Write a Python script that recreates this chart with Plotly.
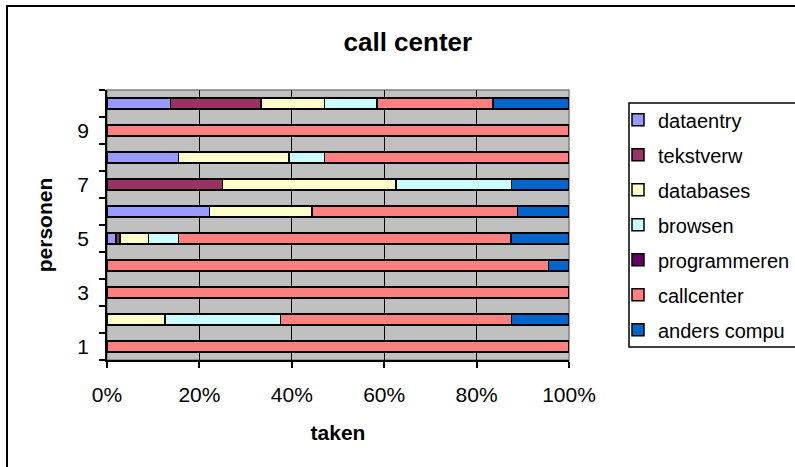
import plotly.graph_objects as go

# Persons (categories on the vertical axis) and shares per task (in %)
personen = [1, 2, 3, 4, 5, 6, 7, 8, 9, 10]
y_tick_labels = ["1", "3", "5", "7", "9"]
y_tick_positions = [1, 3, 5, 7, 9]
x_tick_positions = [0, 20, 40, 60, 80, 100]
x_tick_labels = ["0%", "20%", "40%", "60%", "80%", "100%"]

dataentry = [0, 0, 0, 0, 1.9, 22.2, 0, 15.5, 0, 13.7]
tekstverw = [0, 0, 0, 0, 0.9, 0, 25.0, 0, 0, 19.6]
databases = [0, 12.5, 0, 0, 6.2, 22.2, 37.5, 23.9, 0, 13.8]
browsen = [0, 25.0, 0, 0, 6.5, 0, 25.0, 7.7, 0, 11.3]
programmeren = [0, 0, 0, 0, 0, 0, 0, 0, 0, 0]
callcenter = [100, 50.0, 100, 95.6, 71.9, 44.5, 0, 52.9, 100, 25.1]
anders_compu = [0, 12.5, 0, 4.4, 12.6, 11.1, 12.5, 0, 0, 16.5]

series = [
    ("dataentry", dataentry, "#9999FF"),
    ("tekstverw", tekstverw, "#993366"),
    ("databases", databases, "#FFFFCC"),
    ("browsen", browsen, "#CCFFFF"),
    ("programmeren", programmeren, "#660066"),
    ("callcenter", callcenter, "#FF8080"),
    ("anders compu", anders_compu, "#0066CC"),
]

FONT = "Liberation Sans, Arial, sans-serif"

fig = go.Figure()
for name, values, color in series:
    fig.add_trace(go.Bar(
        y=personen,
        x=values,
        name=name,
        orientation="h",
        legendgroup=name,
        marker=dict(color=color, line=dict(color="black", width=1.5)),
    ))

fig.update_layout(
    width=795,
    height=467,
    barmode="stack",
    barnorm="percent",
    bargap=0.6,
    paper_bgcolor="white",
    plot_bgcolor="#C0C0C0",
    font=dict(family=FONT, size=21, color="black"),
    margin=dict(l=107, r=226, t=90, b=107, autoexpand=False),
    title=dict(
        text="<b>call center</b>",
        font=dict(family=FONT, size=26, color="black"),
        x=0.513, xref="container", xanchor="center",
        y=1 - 42 / 467, yref="container", yanchor="middle",
    ),
    legend=dict(
        x=(618 - 107) / 462, xanchor="left",
        y=0.962, yanchor="top",
        traceorder="grouped",
        tracegroupgap=6,
        borderwidth=0,
        bgcolor="rgba(0,0,0,0)",
        font=dict(family=FONT, size=20, color="black"),
    ),
    showlegend=True,
)

fig.update_xaxes(
    range=[0, 100],
    tickmode="array",
    tickvals=x_tick_positions,
    ticktext=x_tick_labels,
    ticks="outside",
    ticklen=6,
    tickwidth=1.5,
    tickcolor="black",
    ticklabelstandoff=9,
    showgrid=True,
    gridcolor="black",
    gridwidth=1,
    zeroline=False,
    showline=True,
    linecolor="black",
    linewidth=1.5,
    title=dict(text="<b>taken</b>", font=dict(family=FONT, size=21), standoff=20),
    fixedrange=True,
)

fig.update_yaxes(
    range=[0.5, 10.5],
    tickmode="array",
    tickvals=y_tick_positions,
    ticktext=y_tick_labels,
    ticks="",
    ticklabelstandoff=12,
    minor=dict(ticks="outside", tick0=0.5, dtick=1, ticklen=6, tickwidth=1.5, tickcolor="black", showgrid=False),
    showgrid=False,
    zeroline=False,
    showline=True,
    linecolor="black",
    linewidth=1.5,
    title=dict(text="<b>personen</b>", font=dict(family=FONT, size=21), standoff=19),
    fixedrange=True,
)

# grey frame around the plotting area (top and right edges)
fig.add_shape(
    type="rect", xref="x domain", yref="y domain",
    x0=0, x1=1, y0=0, y1=1,
    line=dict(color="#808080", width=1.5), fillcolor="rgba(0,0,0,0)",
    layer="below",
)
# outer chart frame
fig.add_shape(
    type="rect", xref="paper", yref="paper",
    x0=(7 - 107) / 462, x1=2.0,
    y0=-1.0, y1=(360 - 6) / 270,
    line=dict(color="black", width=2), fillcolor="rgba(0,0,0,0)",
    layer="below",
)
# legend frame
fig.add_shape(
    type="rect", xref="paper", yref="paper",
    x0=(629 - 107) / 462, x1=2.0,
    y0=(360 - 347) / 270, y1=(360 - 103) / 270,
    line=dict(color="black", width=1.5), fillcolor="white",
    layer="below",
)

fig.write_html("out.html")
